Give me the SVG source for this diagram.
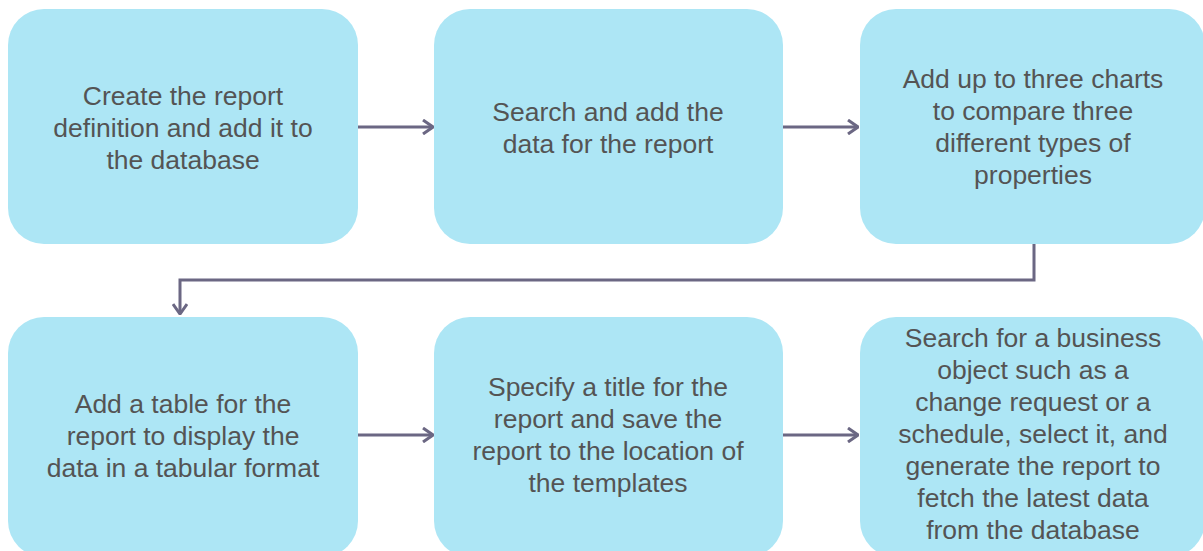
<svg xmlns="http://www.w3.org/2000/svg" width="1203" height="551" viewBox="0 0 1203 551">
<style>
.box{fill:#ade6f5;}
.t{font-family:"Liberation Sans",Arial,sans-serif;font-size:26.5px;fill:#545454;text-anchor:middle;}
.c{fill:none;stroke:#6b6783;stroke-width:3;}
</style>
<defs>
<marker id="ah" viewBox="0 0 12 16" refX="11" refY="8" markerWidth="12" markerHeight="16" markerUnits="userSpaceOnUse" orient="auto">
<path d="M1,1 L11,8 L1,15" fill="none" stroke="#6b6783" stroke-width="3"/>
</marker>
</defs>
<rect width="1203" height="551" fill="#ffffff"/>
<g id="connectors">
<path class="c" d="M358,127 H433" marker-end="url(#ah)"/>
<path class="c" d="M783,127 H858" marker-end="url(#ah)"/>
<path class="c" d="M1034,244 V280 H180 V314" marker-end="url(#ah)"/>
<path class="c" d="M358,435 H433" marker-end="url(#ah)"/>
<path class="c" d="M783,435 H858" marker-end="url(#ah)"/>
</g>
<g id="n1"><rect class="box" x="8" y="9" width="350" height="235" rx="36"/>
<text class="t" x="183"><tspan x="183" y="105">Create the report</tspan><tspan x="183" y="137">definition and add it to</tspan><tspan x="183" y="169">the database</tspan></text></g>
<g id="n2"><rect class="box" x="434" y="9" width="349" height="235" rx="36"/>
<text class="t"><tspan x="608" y="121">Search and add the</tspan><tspan x="608" y="153">data for the report</tspan></text></g>
<g id="n3"><rect class="box" x="860" y="9" width="345" height="235" rx="36"/>
<text class="t"><tspan x="1033" y="88">Add up to three charts</tspan><tspan x="1033" y="120">to compare three</tspan><tspan x="1033" y="152">different types of</tspan><tspan x="1033" y="184">properties</tspan></text></g>
<g id="n4"><rect class="box" x="8" y="317" width="350" height="240" rx="36"/>
<text class="t"><tspan x="183" y="413">Add a table for the</tspan><tspan x="183" y="445">report to display the</tspan><tspan x="183" y="477">data in a tabular format</tspan></text></g>
<g id="n5"><rect class="box" x="434" y="317" width="349" height="240" rx="36"/>
<text class="t"><tspan x="608" y="396">Specify a title for the</tspan><tspan x="608" y="428">report and save the</tspan><tspan x="608" y="460">report to the location of</tspan><tspan x="608" y="492">the templates</tspan></text></g>
<g id="n6"><rect class="box" x="860" y="317" width="345" height="240" rx="36"/>
<text class="t"><tspan x="1033" y="347">Search for a business</tspan><tspan x="1033" y="379">object such as a</tspan><tspan x="1033" y="411">change request or a</tspan><tspan x="1033" y="443">schedule, select it, and</tspan><tspan x="1033" y="475">generate the report to</tspan><tspan x="1033" y="507">fetch the latest data</tspan><tspan x="1033" y="539">from the database</tspan></text></g>
</svg>
